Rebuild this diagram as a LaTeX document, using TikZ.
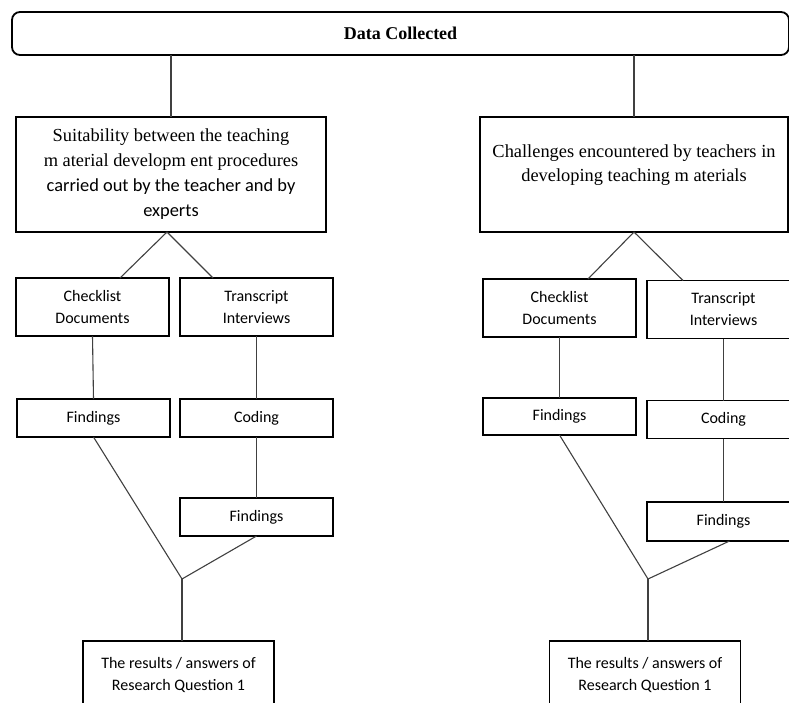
\documentclass[tikz,border=0pt]{standalone}
\usepackage{fontspec}
\setmainfont{Liberation Serif}
\newfontfamily\calfont{Carlito}
\begin{document}
\begin{tikzpicture}[x=1pt,y=-1pt,
  box/.style={draw, line width=1.8pt, inner sep=0pt, outer sep=0pt, align=center,
    font=\calfont\fontsize{16}{22}\selectfont},
  bigbox/.style={box, minimum width=310pt, minimum height=115pt,
    font=\fontsize{18.4}{25}\selectfont},
  smallbox/.style={box, minimum width=153pt, minimum height=58pt},
  findbox/.style={box, minimum width=153pt, minimum height=38pt},
  resbox/.style={box, minimum width=191pt, minimum height=68pt},
  conn/.style={draw=black!75, line width=1.1pt},
  txt/.style={inner sep=0pt, align=center, font=\fontsize{18.4}{24}\selectfont}]
\useasboundingbox (0,0) rectangle (789,702);
\clip (0,0) rectangle (789,702);

% top
\node[box, rounded corners=8pt, minimum width=777pt, minimum height=43pt,
  font=\bfseries\fontsize{18}{20}\selectfont] (top) at (400.5,33.5) {Data Collected};

% left branch
\node[bigbox] (L1) at (171,174.5) {Suitability between the teaching\\m aterial developm ent procedures\\{\calfont carried out by the teacher and by}\\{\calfont experts}};
\node[smallbox] (cl1) at (92.5,307) {Checklist\\Documents};
\node[smallbox] (tr1) at (256.5,307) {Transcript\\Interviews};
\node[findbox] (fi1) at (93.5,418) {Findings};
\node[findbox] (co1) at (256.5,418) {Coding};
\node[findbox] (fi2) at (256.5,517) {Findings};
\coordinate (m1) at (182,579);
\node[resbox] (rq1) at (178.5,675) {The results / answers of\\Research Question 1};

% right branch
\node[bigbox, minimum width=308pt] (R1) at (634,174.5) {};
\node[txt] (R1t) at (634,165) {Challenges encountered by teachers in\\developing teaching m aterials};
\node[smallbox] (cl2) at (559.5,308) {Checklist\\Documents};
\node[smallbox] (tr2) at (723.5,309.5) {Transcript\\Interviews};
\node[findbox, minimum height=37pt] (fi3) at (559.5,416.5) {Findings};
\node[findbox] (co2) at (723.5,419.5) {Coding};
\node[findbox, minimum height=39pt] (fi4) at (723.5,521.5) {Findings};
\coordinate (m2) at (648,579);
\node[resbox] (rq2) at (645,675) {The results / answers of\\Research Question 1};

% connectors
\draw[conn] (L1.north |- top.south) -- (L1.north);
\draw[conn] (R1.north |- top.south) -- (R1.north);

\draw[conn] ([xshift=-4pt]L1.south) -- ([xshift=27.5pt]cl1.north);
\draw[conn] ([xshift=-4pt]L1.south) -- ([xshift=-43.5pt]tr1.north);
\draw[conn] (cl1.south) -- (fi1.north);
\draw[conn] (tr1.south) -- (co1.north);
\draw[conn] (co1.south) -- (fi2.north);
\draw[conn] (fi1.south) -- (m1);
\draw[conn] (fi2.south) -- (m1);
\draw[conn] (m1) -- (m1 |- rq1.north);

\draw[conn] (R1.south) -- ([xshift=28.5pt]cl2.north);
\draw[conn] (R1.south) -- ([xshift=-40.5pt]tr2.north);
\draw[conn] (cl2.south) -- (fi3.north);
\draw[conn] (tr2.south) -- (co2.north);
\draw[conn] (co2.south) -- (fi4.north);
\draw[conn] (fi3.south) -- (m2);
\draw[conn] ([xshift=6pt]fi4.south) -- (m2);
\draw[conn] (m2) -- (m2 |- rq2.north);
\end{tikzpicture}
\end{document}
